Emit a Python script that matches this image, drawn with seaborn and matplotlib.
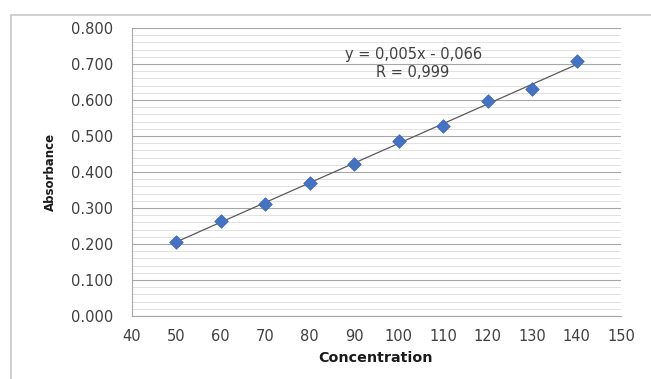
import numpy as np
import pandas as pd
import matplotlib
matplotlib.use("Agg")
import matplotlib.pyplot as plt
from matplotlib.ticker import MultipleLocator, FormatStrFormatter
from matplotlib.patches import Rectangle
import seaborn as sns

concentration = [50, 60, 70, 80, 90, 100, 110, 120, 130, 140]
absorbance = [0.206, 0.264, 0.311, 0.370, 0.422, 0.486, 0.527, 0.597, 0.630, 0.707]
equation_text = "y = 0,005x - 0,066"
r_text = "R = 0,999"
x_label = "Concentration"
y_label = "Absorbance"

df = pd.DataFrame({"Concentration": concentration, "Absorbance": absorbance})

sns.set_style("white")
plt.rcParams["font.family"] = ["DejaVu Sans"]

fig = plt.figure(figsize=(6.51, 3.79), dpi=100)
# outer chart border
fig.patches.append(Rectangle((11 / 651, -0.05), 1.0, (379 - 15) / 379 + 0.05,
                             transform=fig.transFigure, fill=False,
                             edgecolor="#c8c8c8", linewidth=1.2))

ax = fig.add_axes([131.7 / 651, (379 - 316) / 379, (621 - 131.7) / 651, (316 - 28) / 379])

sns.regplot(data=df, x="Concentration", y="Absorbance", ax=ax, scatter=False,
            ci=None, truncate=True, line_kws=dict(color="#5a5a5a", linewidth=0.9, zorder=3))
sns.scatterplot(data=df, x="Concentration", y="Absorbance", ax=ax, marker="D",
                s=48, color="#4472C4", edgecolor="#3a66b4", linewidth=0.5, zorder=4)

ax.set_xlim(40, 150)
ax.set_ylim(0, 0.8)
ax.xaxis.set_major_locator(MultipleLocator(10))
ax.yaxis.set_major_locator(MultipleLocator(0.1))
ax.yaxis.set_minor_locator(MultipleLocator(0.02))
ax.yaxis.set_major_formatter(FormatStrFormatter("%.3f"))

ax.grid(which="major", axis="y", color="#a6a6a6", linewidth=0.8)
ax.grid(which="minor", axis="y", color="#dcdcdc", linewidth=0.6)
ax.set_axisbelow(True)

for s in ["top", "right"]:
    ax.spines[s].set_visible(False)
for s in ["left", "bottom"]:
    ax.spines[s].set_color("#a6a6a6")
    ax.spines[s].set_linewidth(0.8)

ax.tick_params(axis="both", which="major", direction="out", length=4, width=0.8,
               color="#a6a6a6", labelsize=10.5, labelcolor="#404040")
ax.tick_params(axis="y", which="major", pad=9.5)
ax.tick_params(axis="x", which="major", pad=5.5)
ax.tick_params(axis="y", which="minor", length=0)

ax.set_xlabel(x_label, fontsize=10.3, fontweight="bold", va="center", color="#1a1a1a")
ax.set_ylabel(y_label, fontsize=8.5, fontweight="bold", va="center", color="#1a1a1a")
ax.xaxis.set_label_coords(0.498, (316 - 357.5) / 288)
ax.yaxis.set_label_coords((50 - 131.7) / 489.3, (316 - 171.5) / 288)

ax.text((414 - 131.7) / 489.3, (316 - 55) / 288, equation_text, transform=ax.transAxes,
        ha="center", va="center", fontsize=10.5, color="#404040")
ax.text((413 - 131.7) / 489.3, (316 - 72.5) / 288, r_text, transform=ax.transAxes,
        ha="center", va="center", fontsize=10.5, color="#404040")

fig.savefig("out.png", dpi=100)
